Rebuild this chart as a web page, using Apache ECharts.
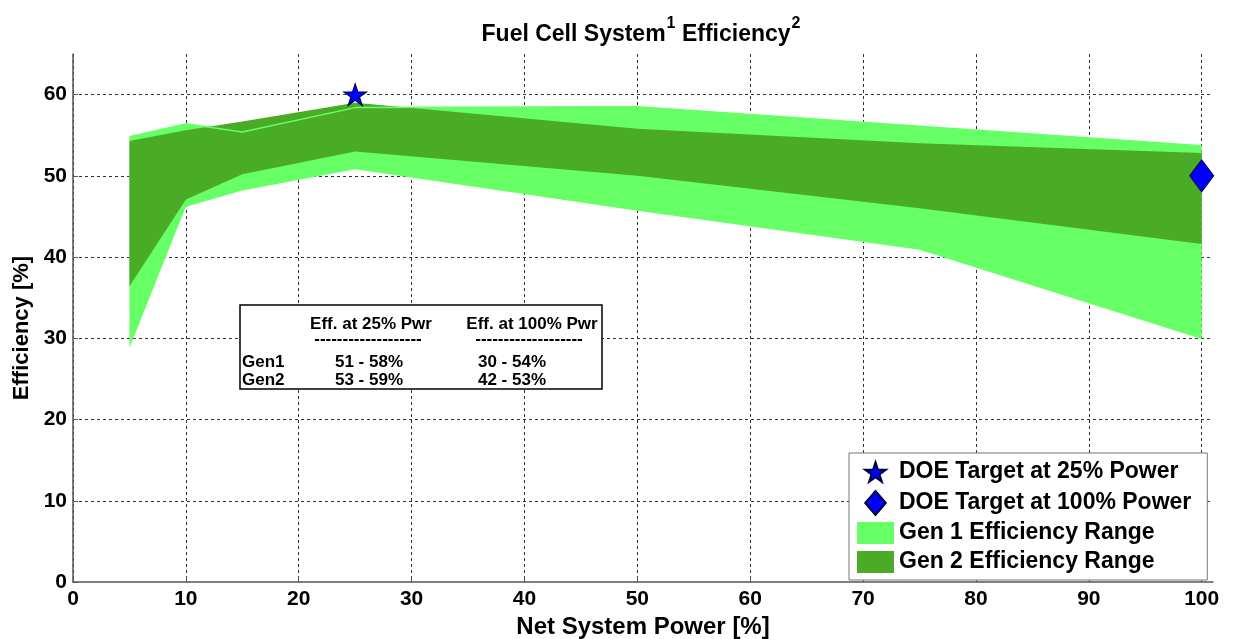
<!DOCTYPE html>
<html>
<head>
<meta charset="utf-8">
<script src="https://cdn.jsdelivr.net/npm/echarts@6/dist/echarts.min.js"></script>
<style>
  html, body { margin: 0; padding: 0; background: #fff; }
  #main { width: 1236px; height: 639px; }
</style>
</head>
<body>
<div id="main"></div>
<script>
// band vertices
var gen1X = [5, 10, 15, 25, 50, 75, 100];
var gen1Top = [54.8, 56.4, 55.4, 58.4, 58.5, 56.1, 53.7];
var gen1Bottom = [28.8, 46.2, 48.2, 50.8, 45.7, 40.9, 29.9];

var gen2X = [5, 10, 15, 25, 50, 75, 100];
var gen2Top = [54.3, 55.6, 56.7, 59.0, 55.8, 54.0, 52.8];
var gen2Bottom = [36.4, 47.1, 50.2, 53.0, 50.0, 46.0, 41.6];

var target25 = [[25, 60]];
var target100 = [[100, 50]];

var tableHead = ['Eff. at 25% Pwr', 'Eff. at 100% Pwr'];
var tableRows = [
    ['Gen1', '51 - 58%', '30 - 54%'],
    ['Gen2', '53 - 59%', '42 - 53%']
];

var FONT = '"Liberation Sans", Arial, Helvetica, sans-serif';
var LIGHT = '#66ff66';
var DARK = '#4aab26';

var starPath = 'path://M10,0L12.245,6.91L19.511,6.91L13.633,11.18L15.878,18.09L10,13.82L4.122,18.09L6.367,11.18L0.489,6.91L7.755,6.91Z';
// same star with a little empty room so the legend draws it smaller
var starIcon = 'path://M10,-2M10,20M10,0L12.245,6.91L19.511,6.91L13.633,11.18L15.878,18.09L10,13.82L4.122,18.09L6.367,11.18L0.489,6.91L7.755,6.91Z';
var diamondPath = 'path://M12,0L24,14L12,28L0,14Z';
var rectIcon = 'path://M0,0H37V22H0Z';

function bandItem(xs, top, bottom) {
    return function (params, api) {
        var pts = [];
        for (var i = 0; i < xs.length; i++) {
            pts.push(api.coord([xs[i], top[i]]));
        }
        for (var j = xs.length - 1; j >= 0; j--) {
            pts.push(api.coord([xs[j], bottom[j]]));
        }
        return {
            type: 'polygon',
            shape: {points: pts},
            style: {fill: api.visual('color')}
        };
    };
}

function pairs(xs, ys) {
    return xs.map(function (x, i) { return [x, ys[i]]; });
}

// inset table
var tableX = 240, tableY = 305;
var colX = [242, 369, 512];
var headX = [371, 532];
var tableFont = 'bold 17px ' + FONT;
var graphics = [{
    type: 'rect',
    shape: {x: tableX, y: tableY, width: 362, height: 84},
    style: {fill: '#fff', stroke: '#000', lineWidth: 1.5},
    z: 100
}];
tableHead.forEach(function (t, i) {
    graphics.push({
        type: 'text', x: headX[i], y: 324, z: 101,
        style: {text: t, font: tableFont, fill: '#000', align: 'center', verticalAlign: 'middle'}
    });
    graphics.push({
        type: 'text', x: headX[i] - 3, y: 339, z: 101,
        style: {text: '-------------------', font: tableFont, fill: '#000', align: 'center', verticalAlign: 'middle'}
    });
});
tableRows.forEach(function (row, r) {
    row.forEach(function (t, c) {
        graphics.push({
            type: 'text', x: colX[c], y: 362 + r * 18, z: 101,
            style: {text: t, font: tableFont, fill: '#000',
                align: c === 0 ? 'left' : 'center', verticalAlign: 'middle'}
        });
    });
});

var chart = echarts.init(document.getElementById('main'));

var option = {
    animation: false,
    backgroundColor: '#fff',
    textStyle: {fontFamily: FONT},
    title: {
        left: 636,
        textAlign: 'center',
        top: 11,
        text: '{a|Fuel Cell System}{s|1}{a| Efficiency}{s|2}',
        textStyle: {
            rich: {
                a: {fontSize: 23, fontWeight: 'bold', fontFamily: FONT, color: '#000', lineHeight: 30, verticalAlign: 'bottom'},
                s: {fontSize: 16, fontWeight: 'bold', fontFamily: FONT, color: '#000', lineHeight: 30, verticalAlign: 'top', padding: [0, 0, 0, 1]}
            }
        }
    },
    grid: {left: 73, right: 23, top: 54, bottom: 57, outerBoundsMode: 'none'},
    xAxis: {
        type: 'value',
        min: 0,
        max: 101,
        interval: 10,
        name: 'Net System Power [%]',
        nameLocation: 'middle',
        nameGap: 30,
        nameTextStyle: {fontSize: 24, fontWeight: 'bold', color: '#000', fontFamily: FONT},
        axisLine: {lineStyle: {color: '#555', width: 1.5}},
        axisTick: {inside: true, length: 5, lineStyle: {color: '#555'}},
        axisLabel: {showMaxLabel: false, fontSize: 21, fontWeight: 'bold', color: '#000', margin: 7, fontFamily: FONT},
        splitLine: {show: true, showMaxLine: false, lineStyle: {color: '#333', type: [3, 3], width: 1}}
    },
    yAxis: {
        type: 'value',
        min: 0,
        max: 65,
        interval: 10,
        name: 'Efficiency [%]',
        nameLocation: 'middle',
        nameGap: 40,
        nameTextStyle: {fontSize: 22, fontWeight: 'bold', color: '#000', fontFamily: FONT, padding: [0, 20, 0, 0]},
        axisLine: {show: true, lineStyle: {color: '#555', width: 1.5}},
        axisTick: {show: true, inside: true, length: 5, lineStyle: {color: '#555'}},
        axisLabel: {showMaxLabel: false, fontSize: 21, fontWeight: 'bold', color: '#000', margin: 6, fontFamily: FONT},
        splitLine: {show: true, showMinLine: false, showMaxLine: false, lineStyle: {color: '#333', type: [3, 3], width: 1}}
    },
    legend: {
        orient: 'vertical',
        left: 849,
        top: 453,
        itemWidth: 37,
        itemHeight: 24,
        itemGap: 5,
        padding: [6, 16, 6, 8],
        borderColor: '#777',
        borderWidth: 1,
        backgroundColor: '#fff',
        textStyle: {fontSize: 23, fontWeight: 'bold', color: '#000', fontFamily: FONT, lineHeight: 24},
        data: [
            {name: 'DOE Target at 25% Power', icon: starIcon},
            {name: 'DOE Target at 100% Power', icon: diamondPath},
            {name: 'Gen 1 Efficiency Range', icon: rectIcon},
            {name: 'Gen 2 Efficiency Range', icon: rectIcon}
        ]
    },
    graphic: graphics,
    series: [
        {
            name: 'Gen 1 Efficiency Range',
            type: 'custom',
            renderItem: bandItem(gen1X, gen1Top, gen1Bottom),
            itemStyle: {color: LIGHT},
            data: [[gen1X[0], gen1Top[0]]],
            silent: true,
            z: 2
        },
        {
            name: 'Gen 2 Efficiency Range',
            type: 'custom',
            renderItem: bandItem(gen2X, gen2Top, gen2Bottom),
            itemStyle: {color: DARK},
            data: [[gen2X[0], gen2Top[0]]],
            silent: true,
            z: 3
        },
        {
            // edge of the Gen 1 patch, shows through the Gen 2 band
            name: 'gen1 edge',
            type: 'line',
            data: pairs(gen1X, gen1Top),
            showSymbol: false,
            lineStyle: {color: LIGHT, width: 1.5},
            silent: true,
            z: 4
        },
        {
            name: 'DOE Target at 25% Power',
            type: 'scatter',
            data: target25,
            symbol: starPath,
            symbolSize: [23, 22],
            itemStyle: {color: '#0000ff', opacity: 1, borderColor: '#000040', borderWidth: 1},
            z: 5
        },
        {
            name: 'DOE Target at 100% Power',
            type: 'scatter',
            data: target100,
            symbol: diamondPath,
            symbolSize: [24, 32],
            itemStyle: {color: '#0000ff', opacity: 1, borderColor: '#000040', borderWidth: 1},
            z: 5
        }
    ]
};

chart.setOption(option);
</script>
</body>
</html>
